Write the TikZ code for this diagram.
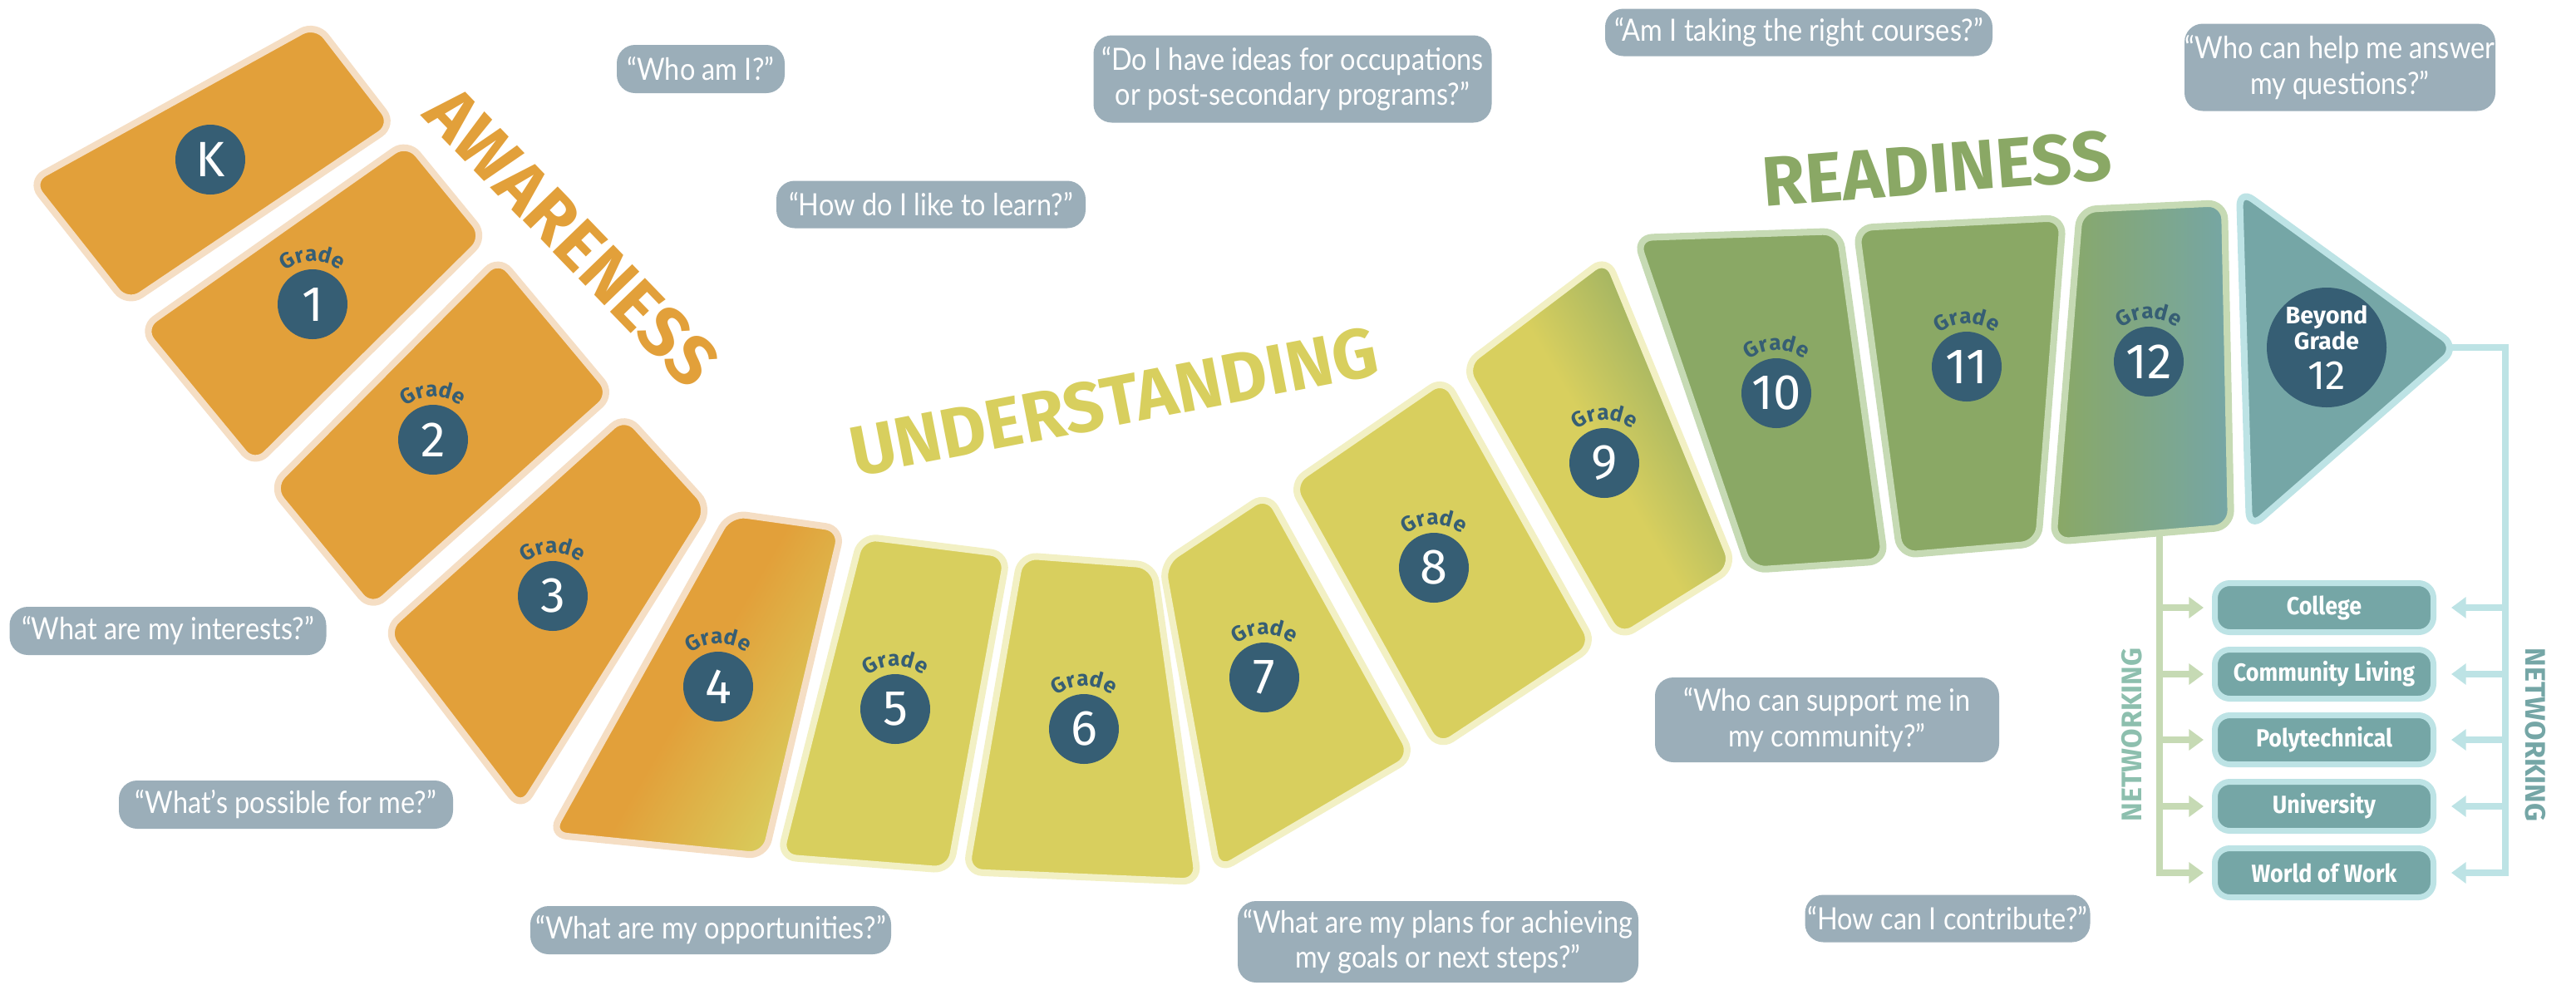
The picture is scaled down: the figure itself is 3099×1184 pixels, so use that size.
\documentclass[tikz,border=0pt]{standalone}
\usepackage{fontspec}
\setmainfont{Fira Sans}
\newfontfamily\handfont[FakeStretch=0.88]{Lato}
\newfontfamily\boxfont[FakeStretch=0.9]{Fira Sans}
\usetikzlibrary{arrows.meta,decorations.text}

\definecolor{orangetile}{HTML}{E2A03A}
\definecolor{orangeedge}{HTML}{F5DEC4}
\definecolor{yellowtile}{HTML}{D8CF5E}
\definecolor{yellowedge}{HTML}{F2F0C4}
\definecolor{greentile}{HTML}{8AA865}
\definecolor{greenedge}{HTML}{C6DAB4}
\definecolor{tealtile}{HTML}{75A6A6}
\definecolor{tealedge}{HTML}{BDE3E5}
\definecolor{dotblue}{HTML}{365E74}
\definecolor{bubble}{HTML}{9BAEB9}
\definecolor{netgreen}{HTML}{8DBFAE}

\newcommand\gradefont{\bfseries\fontsize{7.4}{8}\selectfont}

\begin{document}
\begin{tikzpicture}[x=0.1mm, y=-0.1mm,
    tile/.style={line width=2.3pt, rounded corners=2mm},
    gradedot/.style={circle, fill=dotblue, text=white, minimum size=8.4mm, inner sep=0pt,
        font=\fontsize{17}{17}\selectfont},
    qbox/.style={fill=bubble, rounded corners=2.2mm, text=white, align=center, inner sep=0pt,
        font=\handfont\fontsize{10.5}{12}\selectfont},
    stage/.style={font=\bfseries\fontsize{24}{24}\selectfont},
    dest/.style={draw=tealedge, line width=2pt, fill=tealtile, rounded corners=1.8mm, text=white,
        minimum width=26.3mm, minimum height=5.9mm, inner sep=0pt,
        font=\boxfont\bfseries\fontsize{8.5}{9}\selectfont},
    netlabel/.style={font=\bfseries\fontsize{9.7}{10}\selectfont},
    busL/.style={draw=greenedge, line width=2.3pt},
    busR/.style={draw=tealedge, line width=2.3pt},
    headed/.style={-{Triangle[length=5pt,width=7pt]}}
]
    \useasboundingbox (0,0) rectangle (3099,1184);

    % awareness
    \draw[tile, draw=orangeedge, fill=orangetile] (380,28) -- (474,150) -- (153,366) -- (36,218) -- cycle;
    \draw[tile, draw=orangeedge, fill=orangetile] (490,170) -- (584,285) -- (306,560) -- (170,395) -- cycle;
    \draw[tile, draw=orangeedge, fill=orangetile] (600,310) -- (737,474) -- (447,733) -- (326,586) -- cycle;
    \draw[tile, draw=orangeedge, fill=orangetile] (752,499) -- (854,611) -- (627,973) -- (463,759) -- cycle;
    \draw[tile, draw=orangeedge, left color=orangetile, right color=yellowtile,
        middle color=orangetile, shading angle=60]
        (878,617) -- (1013,636) -- (920,1030) -- (662,1004) -- cycle;

    % understanding
    \draw[tile, draw=yellowedge, fill=yellowtile] (1036,645) -- (1212,667) -- (1143,1047) -- (938,1031) -- cycle;
    \draw[tile, draw=yellowedge, fill=yellowtile] (1228,668) -- (1388,680) -- (1442,1061) -- (1162,1049) -- cycle;
    \draw[tile, draw=yellowedge, fill=yellowtile] (1525,594) -- (1700,910) -- (1465,1048) -- (1398,678) -- cycle;
    \draw[tile, draw=yellowedge, fill=yellowtile] (1738,455) -- (1918,776) -- (1730,900) -- (1553,582) -- cycle;
    \draw[tile, draw=yellowedge, left color=yellowtile, right color=greentile,
        middle color=yellowtile, shading angle=120]
        (1933,310) -- (2086,682) -- (1948,768) -- (1761,440) -- cycle;

    % readiness
    \draw[tile, draw=greenedge, fill=greentile] (1968,286) -- (2213,278) -- (2268,675) -- (2105,686) -- cycle;
    \draw[tile, draw=greenedge, fill=greentile] (2233,274) -- (2482,262) -- (2452,654) -- (2286,668) -- cycle;
    \draw[tile, draw=greenedge, left color=greentile, right color=tealtile]
        (2502,252) -- (2676,244) -- (2684,634) -- (2470,652) -- cycle;
    \draw[tile, draw=tealedge, fill=tealtile] (2694,228) -- (2956,418) -- (2706,636) -- cycle;

    \foreach \n/\x/\y/\t in {0/253/192/K, 1/376/366/1, 2/521/529/2, 3/665/717/3,
        4/864/826/4, 5/1077/853/5, 6/1304/877/6, 7/1521/815/7, 8/1725/683/8,
        9/1930/557/9, 10/2137/473/10, 11/2366/441/11, 12/2585/435/12}
    {
        \node[gradedot] (c\n) at (\x,\y) {\t};
    }
    \foreach \n in {1,...,12}
    {
        \path[decorate, decoration={text along path, text align=center,
            text color=dotblue, text={|\gradefont|Grade}}]
            (c\n.center) ++(200:52) arc[start angle=200, end angle=340, radius=52];
    }
    \node[gradedot, minimum size=14.4mm, align=center, font=\bfseries\fontsize{8.2}{8.6}\selectfont]
        (cb) at (2799,418) {Beyond\\Grade\\[3pt]{\mdseries\fontsize{14}{14}\selectfont 12}};

    \node[stage, text=orangetile, rotate=-46] (aware) at (688,285) {AWARENESS};
    \node[stage, text=yellowtile, rotate=11] (under) at (1340,483) {UNDERSTANDING};
    \node[stage, text=greentile, rotate=4.5] (ready) at (2330,203) {READINESS};

    % questions
    \node[qbox, minimum width=20.2mm, minimum height=5.8mm] (whoami) at (843,83) {“Who am I?”};
    \node[qbox, minimum width=37.2mm, minimum height=5.7mm] (learn) at (1120,246) {“How do I like to learn?”};
    \node[qbox, minimum width=47.9mm, minimum height=10.5mm] (ideas) at (1555,95)
        {“Do I have ideas for occupations\\or post-secondary programs?”};
    \node[qbox, minimum width=46.6mm, minimum height=5.7mm] (courses) at (2164,39) {“Am I taking the right courses?”};
    \node[qbox, minimum width=37.4mm, minimum height=10.5mm] (helpq) at (2815,81)
        {“Who can help me answer\\my questions?”};
    \node[qbox, minimum width=38.1mm, minimum height=5.8mm] (interests) at (202,759) {“What are my interests?”};
    \node[qbox, minimum width=40.2mm, minimum height=5.8mm] (possible) at (344,968) {“What’s possible for me?”};
    \node[qbox, minimum width=43.4mm, minimum height=5.8mm] (opport) at (855,1119) {“What are my opportunities?”};
    \node[qbox, minimum width=48.2mm, minimum height=9.8mm] (plans) at (1730,1133)
        {“What are my plans for achieving\\my goals or next steps?”};
    \node[qbox, minimum width=41.4mm, minimum height=10.2mm] (support) at (2198,866)
        {“Who can support me in\\my community?”};
    \node[qbox, minimum width=34.3mm, minimum height=5.7mm] (contrib) at (2343,1105) {“How can I contribute?”};

    % pathways
    \node[dest] (college) at (2796,731) {College};
    \node[dest] (community) at (2796,811) {Community Living};
    \node[dest] (poly) at (2796,890) {Polytechnical};
    \node[dest] (uni) at (2796,970) {University};
    \node[dest] (work) at (2796,1050) {World of Work};

    \coordinate (t12) at (2598,643);
    \coordinate (tip) at (2950,418);
    \coordinate (rtop) at (3014,418);

    \draw[busL, headed, shorten >=1mm] (t12) |- (work.west);
    \foreach \b in {college,community,poly,uni}
    {
        \draw[busL, headed, shorten >=1mm] (t12 |- \b.west) -- (\b.west);
    }
    \draw[busR, headed, shorten >=1.8mm] (tip) -- (rtop) |- (work.east);
    \foreach \b in {college,community,poly,uni}
    {
        \draw[busR, headed, shorten >=1.8mm] (rtop |- \b.east) -- (\b.east);
    }

    \node[netlabel, text=netgreen, rotate=90] (netL) at (2565,884) {NETWORKING};
    \node[netlabel, text=tealtile, rotate=-90] (netR) at (3050,884) {NETWORKING};

\end{tikzpicture}
\end{document}
